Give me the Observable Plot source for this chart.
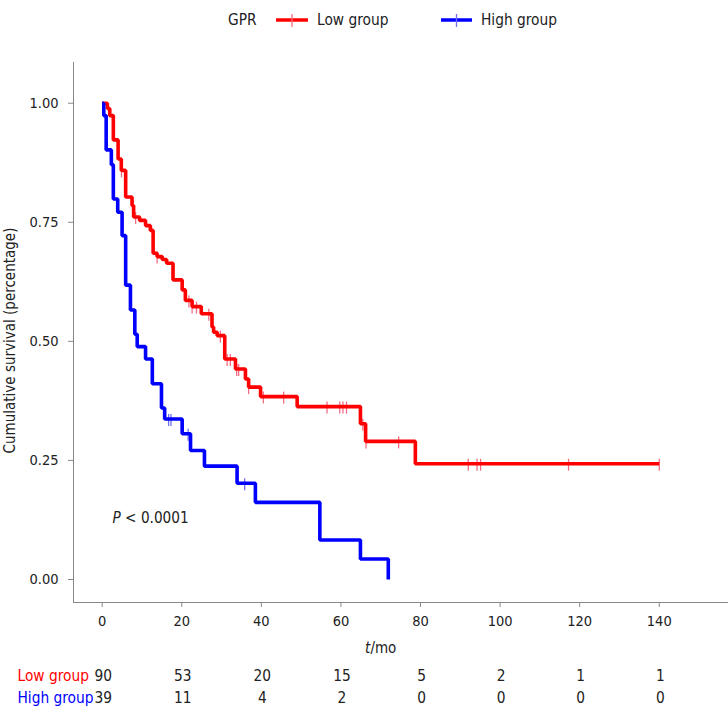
<!DOCTYPE html>
<html><head><meta charset="utf-8">
<script src="https://cdn.jsdelivr.net/npm/d3@7"></script>
<script src="https://cdn.jsdelivr.net/npm/@observablehq/plot@0.6"></script>
<style>
body{margin:0;background:#fff;font-family:"DejaVu Sans Condensed","DejaVu Sans",sans-serif;}
#legend,#main,#risk{width:728px;}
svg{display:block;}
[aria-label="x-axis tick"],[aria-label="y-axis tick"]{stroke:#888;}
g[aria-label="x-axis"] line,g[aria-label="y-axis"] line{stroke:#888;}
</style></head><body>
<div id="legend"></div><div id="main"></div><div id="risk"></div>
<script>
// ---------- data ----------
const groups = ["Low group", "High group"];
const legendTitle = "GPR";
const lowTimes = [0, 1.3, 1.9, 2.8, 4.0, 4.8, 5.9, 7.5, 7.9, 9.4, 10.9, 12.1, 12.8, 13.8, 15.1, 16.2, 17.8, 20.1, 20.9, 22.6, 24.9, 27.6, 28.0, 28.9, 30.8, 33.5, 36.0, 36.8, 39.8, 49.0, 64.9, 66.2, 78.7, 140];
const lowSurv  = [1.0, 0.989, 0.974, 0.923, 0.883, 0.859, 0.803, 0.785, 0.761, 0.754, 0.743, 0.733, 0.685, 0.678, 0.672, 0.664, 0.629, 0.608, 0.586, 0.573, 0.558, 0.530, 0.519, 0.512, 0.463, 0.442, 0.421, 0.404, 0.384, 0.363, 0.327, 0.290, 0.243, 0.243];
const lowCensor = [4.85, 7.8, 8.4, 13.8, 21.8, 22.6, 23.7, 26.8, 29.7, 31.4, 32.2, 33.8, 34.3, 36.8, 40.5, 45.6, 56.5, 59.7, 60.5, 61.4, 65.5, 66.3, 74.5, 92.0, 94.2, 95.1, 117.2, 140];
const highTimes = [0, 0.4, 1.0, 2.3, 2.8, 3.9, 5.0, 5.9, 7.1, 8.2, 8.8, 10.9, 12.6, 14.9, 15.7, 20.1, 22.2, 25.7, 33.9, 38.5, 54.7, 64.9, 71.9];
const highSurv  = [1.0, 0.974, 0.902, 0.871, 0.799, 0.771, 0.722, 0.618, 0.566, 0.515, 0.489, 0.463, 0.411, 0.360, 0.337, 0.306, 0.271, 0.238, 0.202, 0.162, 0.083, 0.043, 0.0];
const highCensor = [16.7, 17.3, 21.6, 35.8];
const xTicks = [0, 20, 40, 60, 80, 100, 120, 140];
const yTicks = [0, 0.25, 0.5, 0.75, 1.0];
const riskTimes = [0, 20, 40, 60, 80, 100, 120, 140];
const riskLow  = [90, 53, 20, 15, 5, 2, 1, 1];
const riskHigh = [39, 11, 4, 2, 0, 0, 0, 0];
const xLabel = "t/mo";
const yLabel = "Cumulative survival (percentage)";
const pLabel = "P < 0.0001";

// ---------- styles ----------
const FONT = '"DejaVu Sans Condensed","DejaVu Sans",sans-serif';
const colors = {"Low group": "#ff0000", "High group": "#0000ff"};
const censorColors = {"Low group": "#f26d84", "High group": "#6f6ff0"};
const xDomain = [-7.21, 157.4];
const yDomain = [-0.0483, 1.0855];

// ---------- build tables ----------
function steps(times, surv, g) { return times.map((t, i) => ({t, s: surv[i], g})); }
function survAt(times, surv, t) { let s = surv[0]; for (let i = 0; i < times.length; i++) if (times[i] <= t + 1e-9) s = surv[i]; return s; }
const lowSteps = steps(lowTimes, lowSurv, "Low group");
const highSteps = steps(highTimes, highSurv, "High group");
const lowCens = lowCensor.map(t => ({t, s: survAt(lowTimes, lowSurv, t)}));
const highCens = highCensor.map(t => ({t, s: survAt(highTimes, highSurv, t)}));
const censorSymbol = {draw(ctx) { ctx.moveTo(0, -5); ctx.lineTo(0, 7); }};

// ---------- legend ----------
(function () {
  const svg = d3.select("#legend").append("svg").attr("width", 728).attr("height", 40)
    .style("font-family", FONT).style("font-size", "15.3px");
  svg.append("text").attr("x", 228).attr("y", 20).attr("dominant-baseline", "middle").attr("fill", "#222").text(legendTitle);
  const items = [{g: groups[0], x0: 276, x1: 308, tx: 317}, {g: groups[1], x0: 441, x1: 472, tx: 481}];
  items.forEach(it => {
    svg.append("line").attr("x1", it.x0).attr("x2", it.x1).attr("y1", 20).attr("y2", 20)
      .attr("stroke", colors[it.g]).attr("stroke-width", 3.5);
    const cx = (it.x0 + it.x1) / 2;
    svg.append("line").attr("x1", cx).attr("x2", cx).attr("y1", 14).attr("y2", 27)
      .attr("stroke", censorColors[it.g]).attr("stroke-width", 1.3);
    svg.append("text").attr("x", it.tx).attr("y", 20).attr("dominant-baseline", "middle").attr("fill", "#222").text(it.g);
  });
})();

// ---------- main plot ----------
const main = Plot.plot({
  width: 728, height: 620,
  marginTop: 22, marginBottom: 58, marginLeft: 73, marginRight: 0,
  style: {fontFamily: FONT, fontSize: "14.5px", color: "#222", background: "transparent", overflow: "visible"},
  x: {domain: xDomain, ticks: xTicks, tickSize: 5, tickPadding: 8, label: null},
  y: {domain: yDomain, ticks: yTicks, tickFormat: d3.format(".2f"), tickSize: 5, tickPadding: 10, label: null},
  marks: [
    Plot.ruleX([xDomain[0]], {stroke: "#888"}),
    Plot.ruleY([yDomain[0]], {stroke: "#888"}),
    Plot.dot(lowCens, {x: "t", y: "s", symbol: censorSymbol, r: 4, fill: "none", stroke: censorColors["Low group"], strokeWidth: 1.3}),
    Plot.dot(highCens, {x: "t", y: "s", symbol: censorSymbol, r: 4, fill: "none", stroke: censorColors["High group"], strokeWidth: 1.3}),
    Plot.line(lowSteps, {x: "t", y: "s", curve: "step-after", stroke: colors["Low group"], strokeWidth: 3.6, strokeLinejoin: "miter", strokeLinecap: "butt"}),
    Plot.line(highSteps, {x: "t", y: "s", curve: "step-after", stroke: colors["High group"], strokeWidth: 3.6, strokeLinejoin: "miter", strokeLinecap: "butt"}),
    Plot.text([pLabel], {text: d => d, frameAnchor: "bottom-left", textAnchor: "start", lineAnchor: "middle", dx: 39, dy: -84, fill: "#222", fontSize: 15.2}),
    Plot.text([xLabel], {text: d => d, x: () => (xTicks[0] + xTicks[xTicks.length - 1]) / 2, frameAnchor: "bottom", textAnchor: "middle", lineAnchor: "middle", dy: 46, fill: "#222", fontSize: 15}),
    Plot.text([yLabel], {text: d => d, frameAnchor: "left", textAnchor: "middle", rotate: -90, lineAnchor: "middle", dx: -63, dy: 8, fill: "#222", fontSize: 15})
  ]
});
document.getElementById("main").appendChild(main);

// italic parts
d3.select(main).selectAll("text").each(function () {
  const txt = this.textContent;
  if (txt === xLabel || txt === pLabel) {
    const sel = d3.select(this);
    const first = txt.slice(0, 1), rest = txt.slice(1);
    sel.text("");
    sel.append("tspan").attr("font-style", "italic").text(first);
    sel.append("tspan").text(rest);
  }
});

// ---------- risk table ----------
const riskRows = [];
riskTimes.forEach((t, i) => {
  riskRows.push({t, g: groups[0], n: riskLow[i]});
  riskRows.push({t, g: groups[1], n: riskHigh[i]});
});
const risk = Plot.plot({
  width: 728, height: 50,
  marginTop: 0, marginBottom: 0, marginLeft: 73, marginRight: 0,
  style: {fontFamily: FONT, fontSize: "15.3px", color: "#222", background: "transparent", overflow: "visible"},
  x: {domain: xDomain, axis: null},
  y: {domain: groups, type: "point", padding: 0, range: [16, 38], axis: null},
  marks: [
    Plot.text(riskRows, {x: "t", y: "g", text: d => String(d.n), fill: "#222", dx: 1}),
    Plot.text([groups[0]], {y: d => d, text: d => d, frameAnchor: "left", textAnchor: "start", dx: -56, fill: colors[groups[0]]}),
    Plot.text([groups[1]], {y: d => d, text: d => d, frameAnchor: "left", textAnchor: "start", dx: -56, fill: colors[groups[1]]})
  ]
});
document.getElementById("risk").appendChild(risk);
</script>
</body></html>
